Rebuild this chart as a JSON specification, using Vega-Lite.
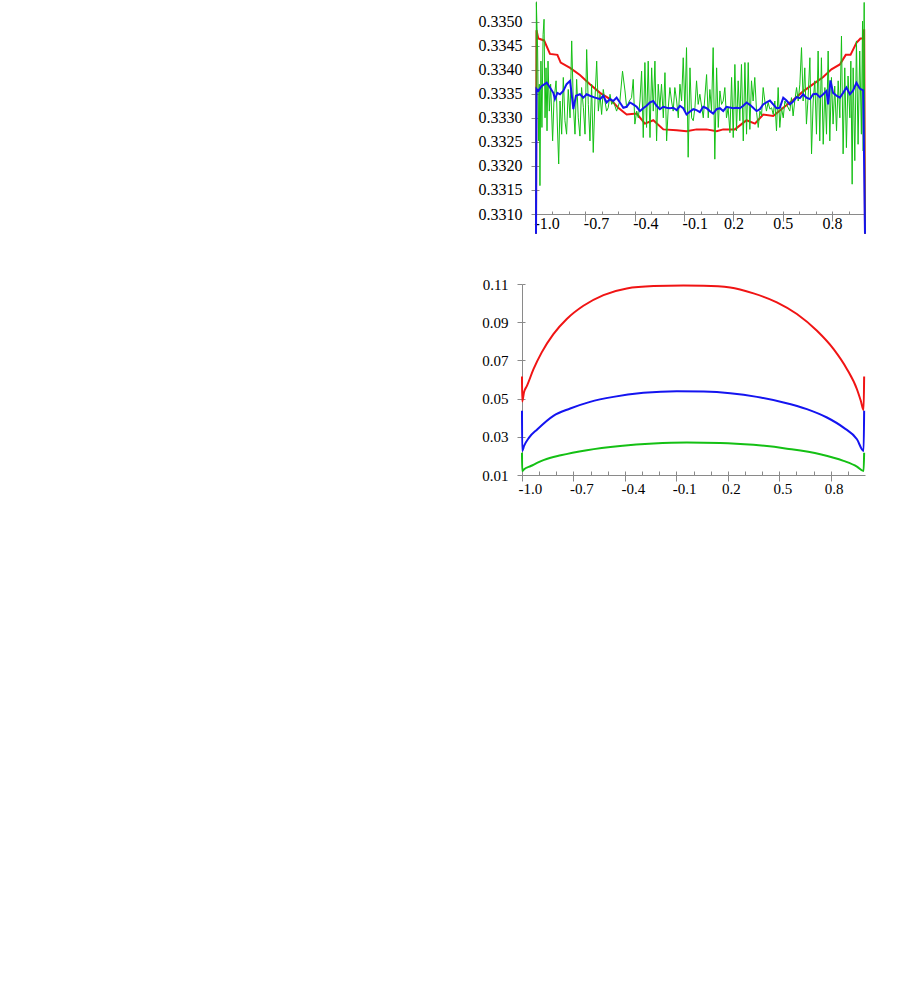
{
  "$schema": "https://vega.github.io/schema/vega-lite/v6.json",
  "background": "white",
  "padding": {"left": 478, "top": 0, "right": 2, "bottom": 2},
  "config": {
    "view": {"stroke": null},
    "axis": {"grid": false, "domainColor": "#8a8a8a", "tickColor": "#8a8a8a", "labelColor": "#000000", "labelFont": "Liberation Serif", "labelOverlap": false, "labelFlush": false}
  },
  "datasets": {
    "topR": [{"x":-1,"y":0.33059},{"x":-0.997,"y":0.33482},{"x":-0.986,"y":0.33465},{"x":-0.951,"y":0.33461},{"x":-0.915,"y":0.33433},{"x":-0.87,"y":0.33431},{"x":-0.85,"y":0.33415},{"x":-0.793,"y":0.33404},{"x":-0.733,"y":0.33389},{"x":-0.672,"y":0.3337},{"x":-0.611,"y":0.33352},{"x":-0.55,"y":0.33339},{"x":-0.5,"y":0.33321},{"x":-0.449,"y":0.33307},{"x":-0.388,"y":0.33309},{"x":-0.338,"y":0.33288},{"x":-0.287,"y":0.33295},{"x":-0.226,"y":0.33276},{"x":-0.145,"y":0.33274},{"x":-0.085,"y":0.33272},{"x":-0.024,"y":0.33276},{"x":0.037,"y":0.33276},{"x":0.098,"y":0.33272},{"x":0.138,"y":0.33276},{"x":0.209,"y":0.33276},{"x":0.28,"y":0.33295},{"x":0.331,"y":0.33288},{"x":0.381,"y":0.33307},{"x":0.442,"y":0.33304},{"x":0.503,"y":0.33321},{"x":0.563,"y":0.33337},{"x":0.624,"y":0.33355},{"x":0.685,"y":0.3337},{"x":0.746,"y":0.33385},{"x":0.796,"y":0.33401},{"x":0.847,"y":0.33411},{"x":0.883,"y":0.33431},{"x":0.912,"y":0.33431},{"x":0.948,"y":0.33456},{"x":0.972,"y":0.33465},{"x":0.989,"y":0.33465},{"x":0.995,"y":0.33484},{"x":1,"y":0.33059}],
    "topB": [{"x":-1,"y":0.33059},{"x":-0.997,"y":0.3336},{"x":-0.986,"y":0.33356},{"x":-0.966,"y":0.33366},{"x":-0.935,"y":0.33373},{"x":-0.915,"y":0.33363},{"x":-0.895,"y":0.33352},{"x":-0.885,"y":0.33339},{"x":-0.87,"y":0.33352},{"x":-0.854,"y":0.33349},{"x":-0.834,"y":0.33356},{"x":-0.814,"y":0.3337},{"x":-0.793,"y":0.33377},{"x":-0.783,"y":0.33349},{"x":-0.773,"y":0.33318},{"x":-0.757,"y":0.33346},{"x":-0.733,"y":0.33349},{"x":-0.712,"y":0.33342},{"x":-0.692,"y":0.33349},{"x":-0.672,"y":0.33346},{"x":-0.642,"y":0.33342},{"x":-0.611,"y":0.33339},{"x":-0.591,"y":0.33346},{"x":-0.571,"y":0.33332},{"x":-0.55,"y":0.33339},{"x":-0.53,"y":0.33335},{"x":-0.51,"y":0.33342},{"x":-0.49,"y":0.33332},{"x":-0.469,"y":0.33321},{"x":-0.449,"y":0.33323},{"x":-0.429,"y":0.33332},{"x":-0.409,"y":0.33328},{"x":-0.388,"y":0.33323},{"x":-0.368,"y":0.33314},{"x":-0.348,"y":0.3332},{"x":-0.328,"y":0.33325},{"x":-0.307,"y":0.33332},{"x":-0.287,"y":0.33335},{"x":-0.267,"y":0.33325},{"x":-0.247,"y":0.33318},{"x":-0.226,"y":0.33323},{"x":-0.206,"y":0.33321},{"x":-0.186,"y":0.3332},{"x":-0.166,"y":0.33321},{"x":-0.145,"y":0.33316},{"x":-0.125,"y":0.33325},{"x":-0.105,"y":0.3332},{"x":-0.085,"y":0.33307},{"x":-0.064,"y":0.33313},{"x":-0.044,"y":0.33318},{"x":-0.024,"y":0.33316},{"x":-0.004,"y":0.33312},{"x":0.017,"y":0.33323},{"x":0.037,"y":0.3332},{"x":0.057,"y":0.33314},{"x":0.077,"y":0.33309},{"x":0.098,"y":0.33318},{"x":0.118,"y":0.3332},{"x":0.138,"y":0.33314},{"x":0.158,"y":0.33323},{"x":0.199,"y":0.3332},{"x":0.219,"y":0.33321},{"x":0.239,"y":0.3332},{"x":0.26,"y":0.33325},{"x":0.28,"y":0.33332},{"x":0.3,"y":0.33327},{"x":0.32,"y":0.33321},{"x":0.341,"y":0.33314},{"x":0.361,"y":0.33318},{"x":0.381,"y":0.33328},{"x":0.401,"y":0.33332},{"x":0.422,"y":0.33336},{"x":0.442,"y":0.33328},{"x":0.462,"y":0.3332},{"x":0.482,"y":0.33321},{"x":0.503,"y":0.33342},{"x":0.523,"y":0.33336},{"x":0.543,"y":0.33328},{"x":0.563,"y":0.33334},{"x":0.584,"y":0.33343},{"x":0.604,"y":0.33341},{"x":0.624,"y":0.33349},{"x":0.644,"y":0.33342},{"x":0.665,"y":0.33339},{"x":0.685,"y":0.33349},{"x":0.705,"y":0.3335},{"x":0.725,"y":0.33343},{"x":0.746,"y":0.33349},{"x":0.766,"y":0.33356},{"x":0.776,"y":0.33328},{"x":0.79,"y":0.33378},{"x":0.806,"y":0.33352},{"x":0.827,"y":0.33346},{"x":0.847,"y":0.33342},{"x":0.867,"y":0.33352},{"x":0.887,"y":0.33363},{"x":0.908,"y":0.33349},{"x":0.928,"y":0.33357},{"x":0.948,"y":0.33373},{"x":0.968,"y":0.33361},{"x":0.989,"y":0.33357},{"x":1,"y":0.33059}],
    "topG": [{"x":-1,"y":0.33059},{"x":-0.998,"y":0.3354},{"x":-0.99,"y":0.33439},{"x":-0.984,"y":0.33252},{"x":-0.98,"y":0.3337},{"x":-0.976,"y":0.33159},{"x":-0.97,"y":0.33418},{"x":-0.964,"y":0.3328},{"x":-0.957,"y":0.33473},{"x":-0.951,"y":0.33505},{"x":-0.945,"y":0.333},{"x":-0.939,"y":0.33404},{"x":-0.933,"y":0.33273},{"x":-0.927,"y":0.33418},{"x":-0.919,"y":0.33314},{"x":-0.911,"y":0.3337},{"x":-0.899,"y":0.33252},{"x":-0.891,"y":0.33335},{"x":-0.878,"y":0.33377},{"x":-0.87,"y":0.33283},{"x":-0.862,"y":0.33204},{"x":-0.854,"y":0.33335},{"x":-0.844,"y":0.33266},{"x":-0.834,"y":0.33384},{"x":-0.824,"y":0.33294},{"x":-0.814,"y":0.33266},{"x":-0.804,"y":0.33359},{"x":-0.793,"y":0.333},{"x":-0.783,"y":0.3346},{"x":-0.773,"y":0.33328},{"x":-0.763,"y":0.33266},{"x":-0.753,"y":0.3338},{"x":-0.743,"y":0.333},{"x":-0.733,"y":0.33262},{"x":-0.723,"y":0.33363},{"x":-0.712,"y":0.33321},{"x":-0.702,"y":0.33266},{"x":-0.692,"y":0.33442},{"x":-0.682,"y":0.33328},{"x":-0.672,"y":0.33252},{"x":-0.662,"y":0.3337},{"x":-0.652,"y":0.33228},{"x":-0.642,"y":0.33335},{"x":-0.631,"y":0.33418},{"x":-0.621,"y":0.33314},{"x":-0.611,"y":0.33349},{"x":-0.601,"y":0.33307},{"x":-0.591,"y":0.33359},{"x":-0.581,"y":0.33335},{"x":-0.571,"y":0.33314},{"x":-0.561,"y":0.33321},{"x":-0.55,"y":0.33349},{"x":-0.54,"y":0.33328},{"x":-0.53,"y":0.33335},{"x":-0.51,"y":0.33314},{"x":-0.49,"y":0.33335},{"x":-0.474,"y":0.33397},{"x":-0.459,"y":0.33356},{"x":-0.449,"y":0.33321},{"x":-0.433,"y":0.33335},{"x":-0.419,"y":0.33342},{"x":-0.409,"y":0.3338},{"x":-0.399,"y":0.33287},{"x":-0.388,"y":0.33314},{"x":-0.378,"y":0.333},{"x":-0.368,"y":0.33335},{"x":-0.358,"y":0.33397},{"x":-0.348,"y":0.33259},{"x":-0.338,"y":0.33415},{"x":-0.328,"y":0.3328},{"x":-0.318,"y":0.33418},{"x":-0.307,"y":0.33259},{"x":-0.297,"y":0.33404},{"x":-0.287,"y":0.33314},{"x":-0.277,"y":0.33418},{"x":-0.267,"y":0.33252},{"x":-0.257,"y":0.3337},{"x":-0.247,"y":0.33321},{"x":-0.237,"y":0.3337},{"x":-0.226,"y":0.333},{"x":-0.216,"y":0.33394},{"x":-0.206,"y":0.33252},{"x":-0.196,"y":0.33321},{"x":-0.186,"y":0.33363},{"x":-0.176,"y":0.33335},{"x":-0.166,"y":0.33314},{"x":-0.156,"y":0.33363},{"x":-0.145,"y":0.33335},{"x":-0.135,"y":0.333},{"x":-0.125,"y":0.3337},{"x":-0.115,"y":0.33335},{"x":-0.105,"y":0.33425},{"x":-0.095,"y":0.33314},{"x":-0.085,"y":0.33446},{"x":-0.075,"y":0.33218},{"x":-0.064,"y":0.33404},{"x":-0.054,"y":0.333},{"x":-0.044,"y":0.33294},{"x":-0.034,"y":0.33321},{"x":-0.024,"y":0.33377},{"x":-0.014,"y":0.33328},{"x":-0.004,"y":0.33349},{"x":0.017,"y":0.333},{"x":0.037,"y":0.3339},{"x":0.047,"y":0.333},{"x":0.057,"y":0.33359},{"x":0.067,"y":0.33314},{"x":0.077,"y":0.33446},{"x":0.087,"y":0.33214},{"x":0.098,"y":0.33404},{"x":0.108,"y":0.3328},{"x":0.118,"y":0.33356},{"x":0.128,"y":0.33328},{"x":0.138,"y":0.33335},{"x":0.148,"y":0.33363},{"x":0.158,"y":0.333},{"x":0.168,"y":0.33321},{"x":0.179,"y":0.33269},{"x":0.189,"y":0.33384},{"x":0.199,"y":0.33259},{"x":0.209,"y":0.33411},{"x":0.219,"y":0.33273},{"x":0.229,"y":0.33377},{"x":0.239,"y":0.33294},{"x":0.249,"y":0.33411},{"x":0.26,"y":0.33252},{"x":0.27,"y":0.33415},{"x":0.28,"y":0.33266},{"x":0.29,"y":0.33415},{"x":0.3,"y":0.33276},{"x":0.31,"y":0.33377},{"x":0.32,"y":0.33335},{"x":0.33,"y":0.33384},{"x":0.341,"y":0.33311},{"x":0.351,"y":0.3328},{"x":0.361,"y":0.33314},{"x":0.371,"y":0.33304},{"x":0.381,"y":0.33363},{"x":0.391,"y":0.33335},{"x":0.401,"y":0.33314},{"x":0.411,"y":0.33332},{"x":0.422,"y":0.33318},{"x":0.432,"y":0.33321},{"x":0.442,"y":0.33307},{"x":0.452,"y":0.33335},{"x":0.462,"y":0.33273},{"x":0.472,"y":0.33363},{"x":0.482,"y":0.3328},{"x":0.492,"y":0.33321},{"x":0.503,"y":0.333},{"x":0.513,"y":0.33335},{"x":0.523,"y":0.33328},{"x":0.543,"y":0.33314},{"x":0.553,"y":0.33342},{"x":0.563,"y":0.33304},{"x":0.573,"y":0.33335},{"x":0.584,"y":0.33363},{"x":0.594,"y":0.33335},{"x":0.604,"y":0.3337},{"x":0.614,"y":0.33446},{"x":0.624,"y":0.33335},{"x":0.634,"y":0.33404},{"x":0.644,"y":0.33287},{"x":0.654,"y":0.33342},{"x":0.665,"y":0.33425},{"x":0.675,"y":0.33225},{"x":0.685,"y":0.33335},{"x":0.695,"y":0.33377},{"x":0.705,"y":0.33266},{"x":0.715,"y":0.33439},{"x":0.725,"y":0.33252},{"x":0.735,"y":0.33425},{"x":0.746,"y":0.33245},{"x":0.756,"y":0.33363},{"x":0.766,"y":0.33266},{"x":0.776,"y":0.33439},{"x":0.786,"y":0.33252},{"x":0.796,"y":0.33384},{"x":0.806,"y":0.33287},{"x":0.816,"y":0.33366},{"x":0.827,"y":0.33273},{"x":0.837,"y":0.33377},{"x":0.847,"y":0.333},{"x":0.857,"y":0.3347},{"x":0.867,"y":0.33225},{"x":0.877,"y":0.33404},{"x":0.887,"y":0.33238},{"x":0.897,"y":0.33387},{"x":0.908,"y":0.333},{"x":0.914,"y":0.33418},{"x":0.922,"y":0.33162},{"x":0.928,"y":0.33404},{"x":0.938,"y":0.33211},{"x":0.948,"y":0.3346},{"x":0.958,"y":0.33245},{"x":0.968,"y":0.33439},{"x":0.978,"y":0.33266},{"x":0.985,"y":0.33501},{"x":0.989,"y":0.33231},{"x":0.995,"y":0.3354},{"x":1,"y":0.33059}],
    "botR": [{"x":-1,"y":0.0616},{"x":-0.999,"y":0.0485},{"x":-0.988,"y":0.0535},{"x":-0.972,"y":0.0565},{"x":-0.933,"y":0.0654},{"x":-0.885,"y":0.0742},{"x":-0.817,"y":0.0838},{"x":-0.739,"y":0.0917},{"x":-0.642,"y":0.0986},{"x":-0.525,"y":0.1042},{"x":-0.389,"y":0.1077},{"x":-0.233,"y":0.1089},{"x":-0.058,"y":0.1092},{"x":0.059,"y":0.1091},{"x":0.214,"y":0.1082},{"x":0.35,"y":0.1051},{"x":0.486,"y":0.1004},{"x":0.603,"y":0.0943},{"x":0.72,"y":0.0855},{"x":0.817,"y":0.0759},{"x":0.895,"y":0.0654},{"x":0.953,"y":0.0549},{"x":0.975,"y":0.049},{"x":0.992,"y":0.044},{"x":0.995,"y":0.0616}],
    "botB": [{"x":-1,"y":0.0436},{"x":-0.999,"y":0.0226},{"x":-0.988,"y":0.0252},{"x":-0.959,"y":0.0296},{"x":-0.91,"y":0.034},{"x":-0.817,"y":0.041},{"x":-0.719,"y":0.0448},{"x":-0.603,"y":0.0483},{"x":-0.467,"y":0.0509},{"x":-0.292,"y":0.053},{"x":-0.097,"y":0.0539},{"x":0.059,"y":0.0537},{"x":0.214,"y":0.0528},{"x":0.37,"y":0.0509},{"x":0.525,"y":0.048},{"x":0.661,"y":0.0445},{"x":0.778,"y":0.0401},{"x":0.875,"y":0.0348},{"x":0.953,"y":0.0287},{"x":0.992,"y":0.0226},{"x":0.995,"y":0.0436}],
    "botG": [{"x":-1,"y":0.0217},{"x":-0.999,"y":0.0121},{"x":-0.988,"y":0.013},{"x":-0.949,"y":0.0147},{"x":-0.871,"y":0.0179},{"x":-0.774,"y":0.0203},{"x":-0.622,"y":0.023},{"x":-0.428,"y":0.0252},{"x":-0.233,"y":0.0265},{"x":-0.039,"y":0.027},{"x":0.156,"y":0.0268},{"x":0.35,"y":0.0258},{"x":0.545,"y":0.0238},{"x":0.739,"y":0.0209},{"x":0.875,"y":0.0174},{"x":0.953,"y":0.0144},{"x":0.992,"y":0.0121},{"x":0.995,"y":0.0217}]
  },
  "vconcat": [
    {
      "width": 343,
      "height": 213,
      "resolve": {"axis": {"x": "independent", "y": "independent"}},
      "layer": [
        {
          "data": {"name": "topR"},
          "mark": {"type": "line", "color": "#f01414", "strokeWidth": 2},
          "encoding": {
            "x": {"field": "x", "type": "quantitative", "scale": {"domain": [-1, 1], "range": [14, 343], "nice": false, "zero": false},
              "axis": {"orient": "bottom", "title": null, "values": [-1, -0.7, -0.4, -0.1, 0.2, 0.5, 0.8],
                "labelExpr": "(datum.value < 0 ? '-' : '') + format(abs(datum.value), '.1f')",
                "labelAlign": {"condition": {"test": "datum.value < 0", "value": "left"}, "value": "center"},
                "labelOffset": {"condition": {"test": "datum.value < 0", "value": -2}, "value": 0},
                "tickSize": 7, "labelPadding": -5.5, "labelFontSize": 16}},
            "y": {"field": "y", "type": "quantitative", "scale": {"domain": [0.331, 0.33543], "nice": false, "zero": false},
              "axis": {"orient": "left", "title": null, "offset": -14, "values": [0.331, 0.3315, 0.332, 0.3325, 0.333, 0.3335, 0.334, 0.3345, 0.335],
                "format": ".4f", "tickSize": 5, "labelPadding": 9, "labelFontSize": 16}}
          }
        },
        {
          "data": {"name": "topG"},
          "mark": {"type": "line", "color": "#14c014", "strokeWidth": 1},
          "encoding": {
            "x": {"field": "x", "type": "quantitative", "axis": null},
            "y": {"field": "y", "type": "quantitative", "axis": null}
          }
        },
        {
          "data": {"name": "topB"},
          "mark": {"type": "line", "color": "#1414f0", "strokeWidth": 2},
          "encoding": {
            "x": {"field": "x", "type": "quantitative", "axis": null},
            "y": {"field": "y", "type": "quantitative", "axis": null}
          }
        },
        {
          "data": {"name": "topR"},
          "mark": {"type": "point", "opacity": 0},
          "encoding": {
            "x": {"field": "x", "type": "quantitative",
              "axis": {"orient": "bottom", "title": null, "labels": false, "domain": false, "tickSize": -3,
                "values": [-1, -0.9, -0.8, -0.7, -0.6, -0.5, -0.4, -0.3, -0.2, -0.1, 0, 0.1, 0.2, 0.3, 0.4, 0.5, 0.6, 0.7, 0.8, 0.9]}},
            "y": {"field": "y", "type": "quantitative",
              "axis": {"orient": "left", "title": null, "offset": -14, "labels": false, "domain": false, "tickSize": -3,
                "values": [0.331, 0.3315, 0.332, 0.3325, 0.333, 0.3335, 0.334, 0.3345, 0.335]}}
          }
        }
      ]
    },
    {
      "width": 343,
      "height": 191,
      "resolve": {"axis": {"x": "independent", "y": "independent"}},
      "layer": [
        {
          "data": {"name": "botR"},
          "mark": {"type": "line", "color": "#f01414", "strokeWidth": 2, "interpolate": "monotone"},
          "encoding": {
            "x": {"field": "x", "type": "quantitative", "scale": {"domain": [-1, 1], "nice": false, "zero": false},
              "axis": {"orient": "bottom", "title": null, "values": [-1, -0.7, -0.4, -0.1, 0.2, 0.5, 0.8],
                "labelExpr": "(datum.value < 0 ? '-' : '') + format(abs(datum.value), '.1f')",
                "labelAlign": {"condition": {"test": "datum.value < 0", "value": "left"}, "value": "center"},
                "labelOffset": {"condition": {"test": "datum.value < 0", "value": -4}, "value": 3},
                "tickSize": 6, "labelPadding": 0, "labelFontSize": 15}},
            "y": {"field": "y", "type": "quantitative", "scale": {"domain": [0.01, 0.11], "nice": false, "zero": false},
              "axis": {"orient": "left", "title": null, "values": [0.01, 0.03, 0.05, 0.07, 0.09, 0.11],
                "format": ".2f", "tickSize": 5, "labelPadding": 9, "labelFontSize": 15}}
          }
        },
        {
          "data": {"name": "botB"},
          "mark": {"type": "line", "color": "#1414f0", "strokeWidth": 2, "interpolate": "monotone"},
          "encoding": {
            "x": {"field": "x", "type": "quantitative", "axis": null},
            "y": {"field": "y", "type": "quantitative", "axis": null}
          }
        },
        {
          "data": {"name": "botG"},
          "mark": {"type": "line", "color": "#14c014", "strokeWidth": 2, "interpolate": "monotone"},
          "encoding": {
            "x": {"field": "x", "type": "quantitative", "axis": null},
            "y": {"field": "y", "type": "quantitative", "axis": null}
          }
        },
        {
          "data": {"name": "botB"},
          "mark": {"type": "point", "opacity": 0},
          "encoding": {
            "x": {"field": "x", "type": "quantitative",
              "axis": {"orient": "bottom", "title": null, "labels": false, "domain": false, "tickSize": -4,
                "values": [-1, -0.9, -0.8, -0.7, -0.6, -0.5, -0.4, -0.3, -0.2, -0.1, 0, 0.1, 0.2, 0.3, 0.4, 0.5, 0.6, 0.7, 0.8, 0.9]}},
            "y": {"field": "y", "type": "quantitative",
              "axis": {"orient": "left", "title": null, "labels": false, "domain": false, "tickSize": -3,
                "values": [0.01, 0.03, 0.05, 0.07, 0.09, 0.11]}}
          }
        }
      ]
    }
  ],
  "spacing": 39
}
